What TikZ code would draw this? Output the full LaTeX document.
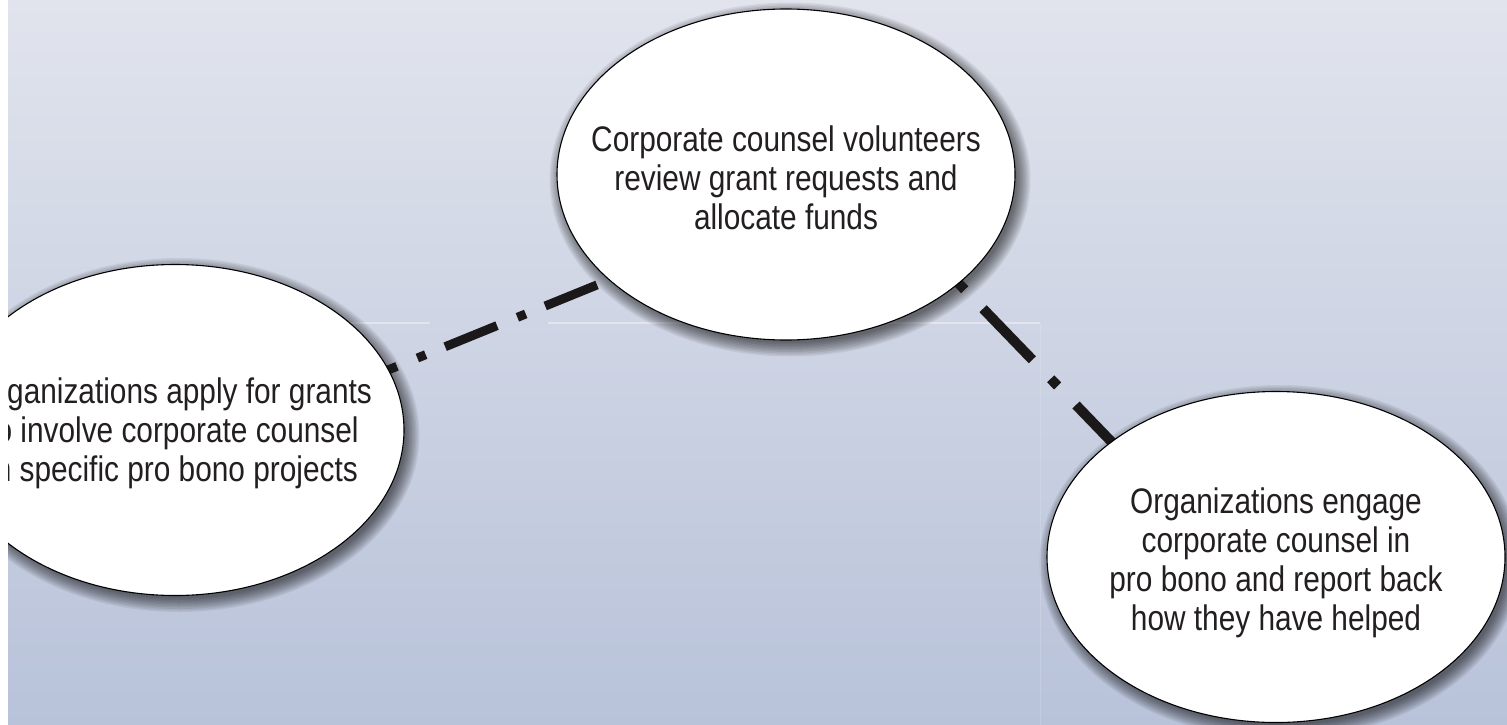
\documentclass[tikz,border=0pt]{standalone}
\usepackage{fontspec}
\setmainfont{Liberation Sans}[FakeStretch=0.84]
\usetikzlibrary{shapes.geometric}
\pgfdeclarelayer{shadowlayer}
\pgfdeclarelayer{linklayer}
\pgfdeclarelayer{toplayer}
\pgfsetlayers{shadowlayer,linklayer,main,toplayer}
\definecolor{bgtop}{HTML}{E1E4ED}
\definecolor{bgmid}{HTML}{D5DAE6}
\definecolor{bgbot}{HTML}{B8C2D9}
\definecolor{txtcol}{HTML}{231F20}
\definecolor{linkcol}{HTML}{1B1819}
\tikzset{
  oval/.style={ellipse, draw=black, line width=1.1pt, fill=white,
    minimum width=458pt, minimum height=331pt, inner sep=0pt,
    text=txtcol, font=\fontsize{35.5}{39}\selectfont},
  linkA/.style={draw=linkcol, line width=9pt,
    dash pattern=on 56pt off 21pt on 9pt off 22pt, dash phase=12pt},
  linkB/.style={draw=linkcol, line width=10pt,
    dash pattern=on 71pt off 26.4pt on 10pt off 26.4pt, dash phase=121.1pt},
  softshadow/.style={fill=black, opacity=0.065}
}
\newcommand{\ovaltext}[3]{\raisebox{#1}[0pt][0pt]{\makebox[0pt]{\hspace*{#2}\begin{tabular}{@{}c@{}}#3\end{tabular}}}}
\begin{document}
\begin{tikzpicture}[x=1pt, y=-1pt]
\useasboundingbox (0,0) rectangle (1507,725);
% nodes
\node[oval] (T) at (786,174.5) {\ovaltext{-14.5pt}{0pt}{Corporate counsel volunteers\\ review grant requests and\\ allocate funds}};
\node[oval] (L) at (175,430) {\ovaltext{-11pt}{-4pt}{Organizations apply for grants\\ to involve corporate counsel\\ in specific pro bono projects}};
\node[oval] (BR) at (1276,557) {\ovaltext{-13.5pt}{0pt}{Organizations engage\\ corporate counsel in\\ pro bono and report back\\ how they have helped}};
% background and shadows
\begin{pgfonlayer}{shadowlayer}
  \shade[top color=bgtop, middle color=bgmid, bottom color=bgbot] (0,0) rectangle (1507,725);
  \draw[white, opacity=0.4, line width=2pt] (8,323) -- (430,323);
  \draw[white, opacity=0.4, line width=2pt] (548,323) -- (1040,323);
  \draw[white, opacity=0.15, line width=1pt] (1040,324) -- (1040,725);
  \foreach \n in {T,L,BR}{
    \foreach \k in {0,...,9}{
      \fill[softshadow] ([xshift=4pt,yshift=-5pt]\n.center) ellipse [x radius={227+1.5*\k}, y radius={163.5+1.5*\k}];
    }
  }
\end{pgfonlayer}
% connectors
\begin{pgfonlayer}{linklayer}
  \draw[linkA] ([yshift=-33.5pt]T.center) -- ([yshift=-26.7pt]L.center);
  \draw[linkB] ([xshift=95.3pt,yshift=-28.8pt]T.center) -- ([xshift=-117pt,yshift=66pt]BR.center);
\end{pgfonlayer}
\begin{pgfonlayer}{toplayer}
  \fill[white] (0,0) rectangle (8,725);
\end{pgfonlayer}
\end{tikzpicture}
\end{document}
